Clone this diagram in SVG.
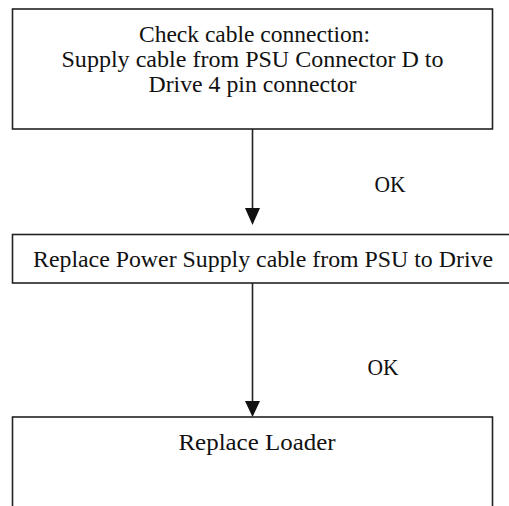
<svg xmlns="http://www.w3.org/2000/svg" width="509" height="506" viewBox="0 0 509 506">
  <style>
    .box { fill: #ffffff; stroke: #222222; stroke-width: 1.6; }
    .lbl { font-family: "Liberation Serif", "Times New Roman", serif; font-size: 22.5px; fill: #111111; }
    .mid { text-anchor: middle; }
    .edge { stroke: #222222; stroke-width: 1.6; fill: none; }
    .head { fill: #111111; stroke: none; }
  </style>
  <rect width="509" height="506" fill="#ffffff"/>

  <g id="connectors">
    <line class="edge" x1="252.5" y1="129" x2="252.5" y2="210"/>
    <polygon class="head" points="245,208 260,208 252.5,225"/>
    <line class="edge" x1="252.5" y1="283" x2="252.5" y2="403"/>
    <polygon class="head" points="245,401 260,401 252.5,417"/>
    <text class="lbl" x="374.5" y="192" textLength="31" lengthAdjust="spacingAndGlyphs">OK</text>
    <text class="lbl" x="367.5" y="375" textLength="31" lengthAdjust="spacingAndGlyphs">OK</text>
  </g>

  <g id="check-cable">
    <rect class="box" x="12.5" y="9" width="480" height="120"/>
    <text class="lbl" x="139" y="42" textLength="231" lengthAdjust="spacingAndGlyphs">Check cable connection:</text>
    <text class="lbl" x="61.5" y="67" textLength="382" lengthAdjust="spacingAndGlyphs">Supply cable from PSU Connector D to</text>
    <text class="lbl" x="148.5" y="92" textLength="208" lengthAdjust="spacingAndGlyphs">Drive 4 pin connector</text>
  </g>

  <g id="replace-cable">
    <rect class="box" x="12.5" y="234.5" width="500" height="48.5"/>
    <text class="lbl" x="33" y="267" textLength="460" lengthAdjust="spacingAndGlyphs">Replace Power Supply cable from PSU to Drive</text>
  </g>

  <g id="replace-loader">
    <rect class="box" x="12.5" y="417" width="480" height="100"/>
    <text class="lbl" x="178.5" y="450" textLength="157" lengthAdjust="spacingAndGlyphs">Replace Loader</text>
  </g>
</svg>
